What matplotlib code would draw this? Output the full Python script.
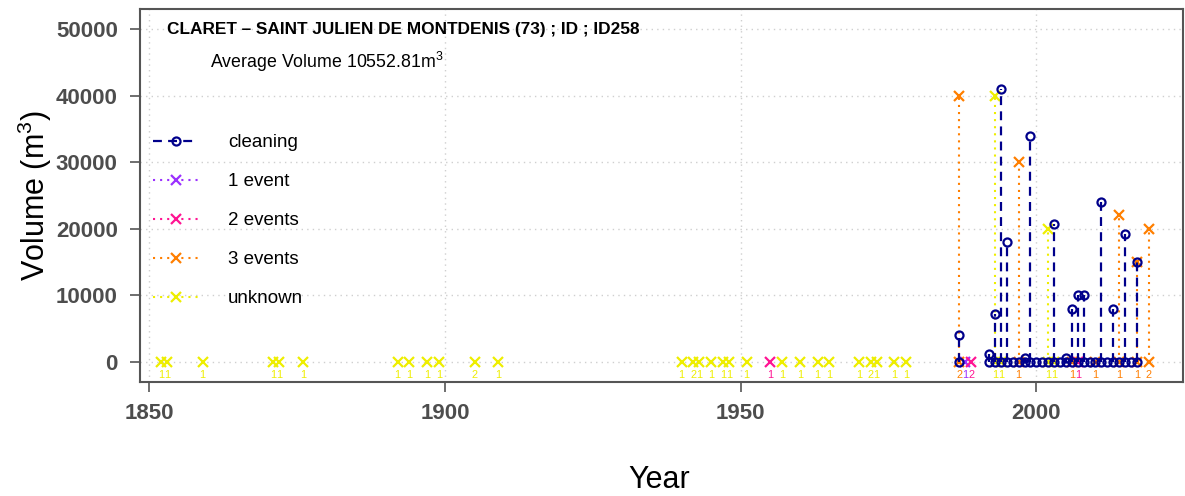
import matplotlib
matplotlib.use("Agg")
import matplotlib.pyplot as plt
from matplotlib.lines import Line2D

plt.rcParams["font.family"] = ["Liberation Sans", "DejaVu Sans"]
plt.rcParams["mathtext.fontset"] = "custom"
plt.rcParams["mathtext.rm"] = "Liberation Sans"
plt.rcParams["mathtext.it"] = "Liberation Sans:italic"
plt.rcParams["mathtext.bf"] = "Liberation Sans:bold"
plt.rcParams["mathtext.default"] = "regular"

# ---- data -------------------------------------------------------------
title = "CLARET \u2013 SAINT JULIEN DE MONTDENIS (73) ; ID ; ID258"
subtitle = "Average Volume 10552.81m$^3$"

clean_years = [1987, 1992, 1993, 1994, 1995, 1996, 1997, 1998, 1999, 2000,
               2001, 2002, 2003, 2004, 2005, 2006, 2007, 2008, 2009, 2010,
               2011, 2012, 2013, 2014, 2015, 2016, 2017]
clean_vol = [4000, 1200, 7200, 41000, 18000, 0, 0, 600, 34000, 0,
             0, 0, 20700, 0, 500, 8000, 10000, 10000, 0, 0,
             24000, 0, 8000, 0, 19200, 0, 15000]

unknown_years = [1852, 1853, 1859, 1871, 1872, 1876, 1892, 1894, 1897, 1899,
                 1905, 1909, 1940, 1942, 1943, 1945, 1947, 1948, 1951, 1957,
                 1960, 1963, 1965, 1970, 1972, 1973, 1976, 1978, 1993, 1994,
                 2002, 2003]
unknown_vol = [0, 0, 0, 0, 0, 0, 0, 0, 0, 0,
               0, 0, 0, 0, 0, 0, 0, 0, 0, 0,
               0, 0, 0, 0, 0, 0, 0, 0, 40000, 0,
               20000, 0]
unknown_lab = [1, 1, 1, 1, 1, 1, 1, 1, 1, 1,
               2, 1, 1, 2, 1, 1, 1, 1, 1, 1,
               1, 1, 1, 1, 2, 1, 1, 1, 1, 1,
               1, 1]

one_years = [1988]
one_vol = [0]
one_lab = [1]

two_years = [1955, 1989, 2007]
two_vol = [0, 0, 0]
two_lab = [1, 2, 1]

three_years = [1987, 1997, 2006, 2010, 2014, 2017, 2019]
three_vol = [40000, 30000, 0, 0, 22000, 15000, 20000]
three_lab = [2, 1, 1, 1, 1, 1, 2]

x_ticks = [1850, 1900, 1950, 2000]
y_ticks = [0, 10000, 20000, 30000, 40000, 50000]

# ---- styles -----------------------------------------------------------
C_CLEAN = "#00008B"
C_ONE = "#9B30FF"
C_TWO = "#FF1493"
C_THREE = "#FF7F00"
C_UNK = "#EEEE00"
AX_GREY = "#555555"
TICK_GREY = "#4D4D4D"

DOT = (0, (1, 2.4))
DASH = (0, (4, 2.8))
CIRCLE_MS = 5.8
CROSS_MS = 6.5

fig = plt.figure(figsize=(11.85, 4.96), dpi=100)
ax = fig.add_axes([140 / 1185, 1 - 381.7 / 496, 1043 / 1185, 373.2 / 496])

ax.set_xlim(1848.43, 2024.8)
ax.set_ylim(-3008, 53128)

ax.set_xticks(x_ticks)
ax.set_yticks(y_ticks)
ax.grid(True, color="#CFCFCF", linestyle=(0, (1, 3)), linewidth=1.0)
ax.set_axisbelow(True)

for sp in ax.spines.values():
    sp.set_color(AX_GREY)
    sp.set_linewidth(1.5)
ax.tick_params(axis="both", colors=AX_GREY, width=1.2, length=7,
               labelcolor=TICK_GREY, labelsize=16)
ax.tick_params(axis="x", pad=8)
ax.tick_params(axis="y", pad=9)
for lab in ax.get_xticklabels() + ax.get_yticklabels():
    lab.set_fontweight("bold")


def draw_events(years, vols, labels, color):
    for yr, v, n in zip(years, vols, labels):
        if v > 0:
            ax.plot([yr, yr], [0, v], color=color, linestyle=DOT,
                    linewidth=1.5, zorder=2)
            ax.plot([yr], [v], marker="x", color=color, markersize=CROSS_MS,
                    markeredgewidth=1.6, linestyle="none", zorder=3)
        ax.plot([yr], [0], marker="x", color=color, markersize=CROSS_MS,
                markeredgewidth=1.6, linestyle="none", zorder=3)
        ax.annotate(str(n), (yr, 0), xytext=(0, -9.3),
                    textcoords="offset points", ha="center", va="center",
                    fontsize=7.8, color=color, zorder=3)


draw_events(unknown_years, unknown_vol, unknown_lab, C_UNK)
draw_events(one_years, one_vol, one_lab, C_ONE)
draw_events(two_years, two_vol, two_lab, C_TWO)
draw_events(three_years, three_vol, three_lab, C_THREE)

# cleaning operations: dashed stems with open circles
for yr, v in zip(clean_years, clean_vol):
    if v > 0:
        ax.plot([yr, yr], [0, v], color=C_CLEAN, linestyle=DASH,
                linewidth=1.6, zorder=4)
        ax.plot([yr], [v], marker="o", markerfacecolor="none",
                markeredgecolor=C_CLEAN, markersize=CIRCLE_MS,
                markeredgewidth=1.6, linestyle="none", zorder=5)
ax.plot(clean_years, [0] * len(clean_years), marker="o",
        markerfacecolor="none", markeredgecolor=C_CLEAN,
        markersize=CIRCLE_MS, markeredgewidth=1.6, linestyle="none",
        zorder=5)

ax.text(0.0259, 0.943, title, transform=ax.transAxes, fontsize=12.4,
        fontweight="bold", ha="left", va="center", color="black")
ax.text(0.0671, 0.8575, subtitle, transform=ax.transAxes, fontsize=12.8,
        ha="left", va="center", color="black")

handles = [
    Line2D([], [], color=C_CLEAN, linestyle=DASH, linewidth=1.6, marker="o",
           markerfacecolor="none", markersize=CIRCLE_MS, markeredgewidth=1.6),
    Line2D([], [], color=C_ONE, linestyle=DOT, linewidth=1.5, marker="x",
           markersize=CROSS_MS, markeredgewidth=1.6),
    Line2D([], [], color=C_TWO, linestyle=DOT, linewidth=1.5, marker="x",
           markersize=CROSS_MS, markeredgewidth=1.6),
    Line2D([], [], color=C_THREE, linestyle=DOT, linewidth=1.5, marker="x",
           markersize=CROSS_MS, markeredgewidth=1.6),
    Line2D([], [], color=C_UNK, linestyle=DOT, linewidth=1.5, marker="x",
           markersize=CROSS_MS, markeredgewidth=1.6),
]
labels = ["cleaning", "1 event", "2 events", "3 events", "unknown"]
leg = ax.legend(handles, labels, loc="upper left",
                bbox_to_anchor=(0.0, 0.699), frameon=False, fontsize=13.5,
                handlelength=2.4, handletextpad=1.6, labelspacing=1.17,
                borderaxespad=0.3)

ax.set_xlabel("Year", fontsize=22)
ax.set_ylabel("Volume (m$^3$)", fontsize=22)
ax.xaxis.label.set_va("baseline")
ax.xaxis.set_label_coords(0.4975, -0.2857)
ax.yaxis.set_label_coords(-0.0824, 0.5)

fig.savefig("out.png", dpi=100)
